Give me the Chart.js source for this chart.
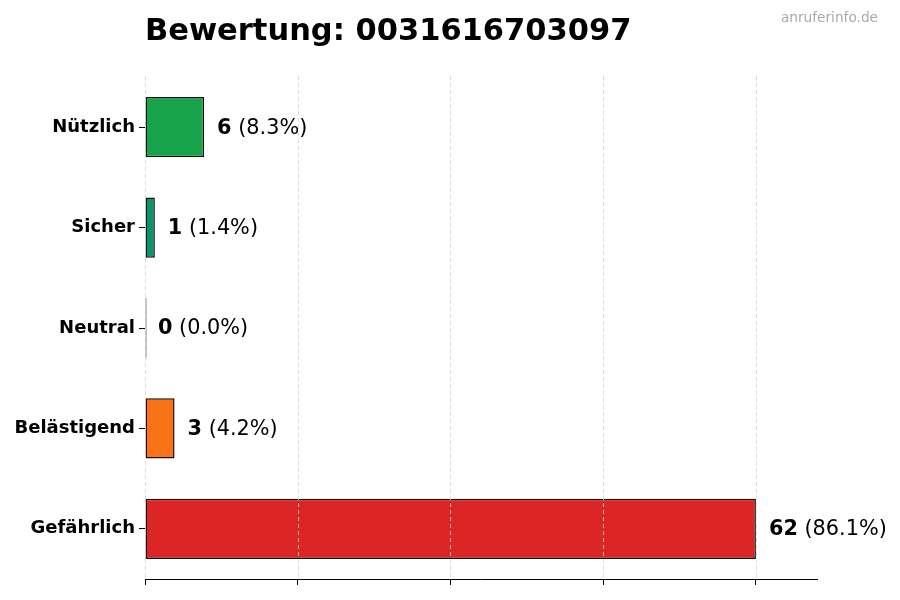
<!DOCTYPE html>
<html>
<head>
<meta charset="utf-8">
<script src="https://cdn.jsdelivr.net/npm/chart.js@4.4.1/dist/chart.umd.min.js"></script>
<style>
  html, body { margin: 0; padding: 0; background: #fff; }
  #wrap { width: 900px; height: 600px; }
</style>
</head>
<body>
<div id="wrap"><canvas id="ratingChart" width="900" height="600"></canvas></div>
<script>
const categories = ['Nützlich', 'Sicher', 'Neutral', 'Belästigend', 'Gefährlich'];
const counts = [6, 1, 0, 3, 62];
const barColors = ['#16a34a', '#059669', '#6b7280', '#f97316', '#dc2626'];
const xTickValues = [0, 15.5, 31, 46.5, 62];
const titleText = 'Bewertung: 0031616703097';
const watermarkText = 'anruferinfo.de';

const total = counts.reduce((a, b) => a + b, 0);
const FONT = '"DejaVu Sans", "Liberation Sans", sans-serif';

// dashed vertical grid lines, drawn over the bars
const gridOnTop = {
  id: 'gridOnTop',
  afterDatasetsDraw(chart) {
    const { ctx, chartArea, scales } = chart;
    ctx.save();
    ctx.strokeStyle = '#d4d4d4';
    ctx.lineWidth = 0.8;
    ctx.setLineDash([4, 3]);
    xTickValues.forEach(v => {
      const x = Math.round(scales.x.getPixelForValue(v)) + 0.5;
      ctx.beginPath();
      ctx.moveTo(x, chartArea.top - 1);
      ctx.lineTo(x, chartArea.bottom);
      ctx.stroke();
    });
    ctx.restore();
  }
};

// "6 (8.3%)" style labels beside the bars
const valueLabels = {
  id: 'valueLabels',
  afterDatasetsDraw(chart) {
    const { ctx, scales } = chart;
    const meta = chart.getDatasetMeta(0);
    ctx.save();
    ctx.textBaseline = 'middle';
    ctx.textAlign = 'left';
    ctx.fillStyle = '#000';
    meta.data.forEach((bar, i) => {
      const boldPart = String(counts[i]);
      const normalPart = ' (' + (counts[i] / total * 100).toFixed(1) + '%)';
      let x = scales.x.getPixelForValue(counts[i]) + 13;
      ctx.font = 'bold 20.8px ' + FONT;
      ctx.fillText(boldPart, x, bar.y + 1);
      x += ctx.measureText(boldPart).width;
      ctx.font = '20.8px ' + FONT;
      ctx.fillText(normalPart, x, bar.y + 1);
    });
    ctx.restore();
  }
};

const headerText = {
  id: 'headerText',
  afterDraw(chart) {
    const { ctx } = chart;
    ctx.save();
    ctx.textBaseline = 'alphabetic';
    ctx.fillStyle = '#000';
    ctx.textAlign = 'left';
    ctx.font = 'bold 30.5px ' + FONT;
    ctx.fillText(titleText, 145, 40);
    ctx.fillStyle = '#aaaaaa';
    ctx.textAlign = 'right';
    ctx.font = '13.7px ' + FONT;
    ctx.fillText(watermarkText, 878, 22);
    ctx.restore();
  }
};

const ctx = document.getElementById('ratingChart').getContext('2d');
new Chart(ctx, {
  type: 'bar',
  data: {
    labels: categories,
    datasets: [{
      data: counts,
      backgroundColor: barColors,
      borderColor: '#111',
      borderWidth: 1.5,
      borderSkipped: false,
      minBarLength: 1.5,
      barPercentage: 0.6,
      categoryPercentage: 1
    }]
  },
  options: {
    indexAxis: 'y',
    responsive: false,
    animation: false,
    devicePixelRatio: 1,
    layout: { padding: { top: 77, right: 83, left: 0, bottom: 0 } },
    plugins: {
      legend: { display: false },
      tooltip: { enabled: false }
    },
    scales: {
      x: {
        type: 'linear',
        position: 'bottom',
        min: 0,
        max: 68.2,
        afterBuildTicks: scale => { scale.ticks = xTickValues.map(v => ({ value: v })); },
        afterFit: scale => { scale.height = 21; },
        ticks: { display: false },
        grid: {
          drawOnChartArea: false,
          drawTicks: true,
          tickLength: 6,
          tickColor: '#000',
          tickWidth: 1
        },
        border: { display: true, color: '#000', width: 1 }
      },
      y: {
        type: 'category',
        afterFit: scale => { scale.width = 145; },
        ticks: {
          color: '#000',
          padding: 4,
          font: { family: FONT, size: 18, weight: 'bold' }
        },
        grid: {
          offset: false,
          drawOnChartArea: false,
          drawTicks: true,
          tickLength: 6,
          tickColor: '#000'
        },
        border: { display: false }
      }
    }
  },
  plugins: [gridOnTop, valueLabels, headerText]
});
</script>
</body>
</html>
